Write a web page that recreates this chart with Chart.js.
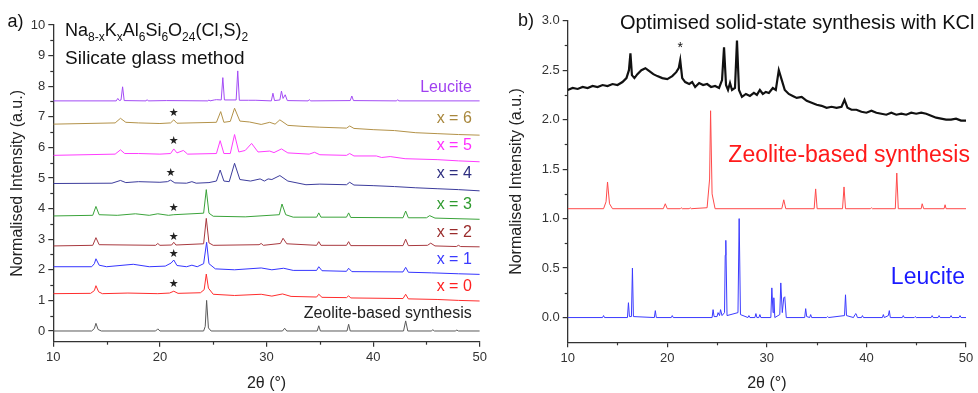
<!DOCTYPE html>
<html>
<head>
<meta charset="utf-8">
<script src="https://cdn.jsdelivr.net/npm/chart.js@4.4.1/dist/chart.umd.min.js"></script>
<style>
  html, body { margin: 0; padding: 0; background: #fff; }
  #wrap { position: relative; width: 978px; height: 393px; overflow: hidden; }
  canvas { position: absolute; top: 0; }
  #left { left: 0; }
  #right { left: 490px; }
</style>
</head>
<body>
<div id="wrap">
  <canvas id="left" width="490" height="393"></canvas>
  <canvas id="right" width="488" height="393"></canvas>
</div>
<script>
// ---- tick labels ----
const xTicks = [10, 20, 30, 40, 50];
const yTicksA = [0, 1, 2, 3, 4, 5, 6, 7, 8, 9, 10];
const yTicksB = [0, 0.5, 1, 1.5, 2, 2.5, 3];

// ---- panel a) silicate glass method, offset patterns (2theta / intensity) ----
const zeoA_t = [10, 13.6, 13.85, 14.0, 14.2, 14.5, 19.6, 19.8, 20.0, 24.1, 24.25, 24.38, 24.55, 24.8, 31.5, 31.7, 31.9, 34.75, 34.9, 35.05, 37.55, 37.7, 37.85, 42.85, 43.05, 43.25, 45.45, 45.6, 45.75, 47.7, 47.85, 48.0, 50];
const zeoA_i = [0, 0, 0.08, 0.25, 0.05, 0, 0, 0.07, 0, 0, 0.15, 1.0, 0.1, 0, 0, 0.09, 0, 0, 0.17, 0, 0, 0.22, 0, 0, 0.33, 0, 0, 0.04, 0, 0, 0.03, 0, 0];

const x0_t = [10, 13.5, 13.85, 14.0, 14.25, 14.6, 17, 19.8, 20.9, 21.3, 21.7, 23.8, 24.15, 24.35, 24.55, 25, 27, 29.5, 30.5, 31.5, 32.3, 34.7, 34.9, 35.2, 37.5, 37.7, 37.9, 42.8, 43.05, 43.3, 46, 48, 50];
const x0_i = [1.22, 1.23, 1.32, 1.48, 1.28, 1.22, 1.24, 1.22, 1.24, 1.3, 1.23, 1.25, 1.35, 1.86, 1.4, 1.2, 1.16, 1.2, 1.14, 1.21, 1.13, 1.11, 1.2, 1.1, 1.09, 1.15, 1.08, 1.06, 1.2, 1.05, 1.03, 1.0, 0.98];

const x1_t = [10, 13.6, 13.85, 14.0, 14.3, 15, 17.5, 19, 20.5, 21.05, 21.3, 21.6, 22.5, 23.0, 23.5, 24.1, 24.38, 24.6, 25.2, 27, 29.5, 30.5, 31.6, 32.5, 34.7, 34.9, 35.2, 37.5, 37.7, 38, 42.8, 43.05, 43.3, 45.5, 48, 50];
const x1_i = [2.1, 2.1, 2.2, 2.36, 2.15, 2.1, 2.18, 2.1, 2.12, 2.22, 2.32, 2.14, 2.1, 2.15, 2.1, 2.2, 2.9, 2.2, 2.03, 2.0, 2.06, 2.0, 2.05, 1.98, 1.98, 2.1, 1.97, 1.95, 2.05, 1.94, 1.93, 2.08, 1.92, 1.9, 1.87, 1.85];

const x2_t = [10, 13.7, 14.0, 14.3, 19.6, 19.8, 20.0, 21.1, 21.3, 21.5, 24.1, 24.35, 24.6, 25, 29.3, 29.5, 29.7, 31.3, 31.55, 31.9, 34.7, 34.9, 35.1, 37.5, 37.7, 37.9, 42.8, 43.05, 43.3, 45.1, 45.4, 45.8, 47.8, 48, 48.2, 50];
const x2_i = [2.78, 2.8, 3.05, 2.82, 2.8, 2.86, 2.8, 2.81, 2.9, 2.81, 2.85, 3.68, 2.88, 2.8, 2.82, 2.86, 2.8, 2.86, 3.03, 2.85, 2.8, 2.92, 2.8, 2.8, 2.92, 2.79, 2.79, 3.0, 2.79, 2.8, 2.87, 2.78, 2.76, 2.8, 2.76, 2.75];

const x3_t = [10, 13.7, 14.0, 14.3, 16, 17.7, 19, 19.8, 20.8, 21.3, 24.1, 24.35, 24.6, 25, 28, 31.2, 31.45, 31.8, 32.5, 34.7, 34.9, 35.1, 37.5, 37.7, 37.9, 42.8, 43.05, 43.3, 45.0, 45.3, 45.8, 50];
const x3_i = [3.76, 3.78, 4.07, 3.8, 3.78, 3.83, 3.78, 3.83, 3.78, 3.8, 3.85, 4.62, 3.85, 3.75, 3.73, 3.8, 4.15, 3.8, 3.72, 3.72, 3.86, 3.72, 3.72, 3.86, 3.71, 3.7, 3.92, 3.7, 3.7, 3.77, 3.69, 3.65];

const x4_t = [10, 15.5, 16.3, 16.8, 18, 20, 20.7, 21.0, 21.4, 22.5, 23.0, 23.4, 24.6, 25.3, 25.65, 26.0, 26.5, 27.0, 27.5, 28.5, 29.4, 29.8, 30.15, 30.5, 31.25, 32, 33.7, 35, 37.5, 37.8, 38.2, 40, 42, 44, 46, 48, 50];
const x4_i = [4.82, 4.83, 4.92, 4.85, 4.88, 4.86, 4.88, 4.93, 4.84, 4.83, 4.88, 4.83, 4.85, 4.9, 5.26, 4.9, 4.88, 5.48, 4.95, 4.9, 4.97, 4.9, 4.97, 4.95, 5.08, 4.9, 4.78, 4.8, 4.78, 4.86, 4.77, 4.75, 4.72, 4.68, 4.65, 4.62, 4.58];

const x5_t = [10, 15.8, 16.3, 16.7, 18, 20, 21.0, 21.3, 21.6, 22.2, 22.6, 25.3, 25.65, 26.0, 26.6, 27.0, 27.4, 28.0, 28.6, 29.2, 30.3, 30.7, 31.4, 32.0, 34.0, 34.5, 35, 37.5, 37.8, 38.2, 40.3, 40.8, 41.6, 43, 46, 48, 50];
const x5_i = [5.74, 5.78, 5.92, 5.8, 5.8, 5.78, 5.8, 5.95, 5.82, 5.9, 5.78, 5.8, 6.22, 5.8, 5.8, 6.42, 5.85, 5.9, 6.13, 5.85, 5.88, 5.83, 5.95, 5.82, 5.78, 5.84, 5.76, 5.74, 5.8, 5.72, 5.72, 5.67, 5.7, 5.63, 5.6, 5.56, 5.53];

const x6_t = [10, 15.8, 16.3, 16.8, 18, 20, 21.0, 21.3, 21.6, 25.3, 25.7, 26.0, 26.6, 27.0, 27.5, 28.4, 29.5, 30.3, 30.8, 31.25, 32, 33.7, 35, 37.5, 37.8, 38.2, 40, 42, 44, 46, 48, 50];
const x6_i = [6.76, 6.8, 6.95, 6.82, 6.8, 6.78, 6.8, 6.9, 6.79, 6.82, 7.17, 6.82, 6.85, 7.28, 6.86, 6.83, 6.75, 6.82, 6.76, 6.9, 6.72, 6.68, 6.66, 6.63, 6.7, 6.62, 6.58, 6.55, 6.48, 6.45, 6.42, 6.4];

const leuA_t = [10, 15.9, 16.05, 16.2, 16.35, 16.5, 16.65, 18.7, 18.8, 18.9, 20.6, 24.5, 24.6, 24.7, 25.1, 25.3, 25.75, 25.9, 26.05, 27.15, 27.3, 27.45, 28.3, 29, 30.45, 30.6, 30.75, 31.25, 31.4, 31.55, 31.75, 31.95, 33.9, 34.0, 34.15, 37.85, 38.0, 38.15, 42.2, 42.3, 42.4, 50];
const leuA_i = [7.52, 7.52, 7.6, 7.53, 7.55, 7.98, 7.53, 7.52, 7.56, 7.52, 7.53, 7.52, 7.55, 7.52, 7.55, 7.56, 7.55, 8.28, 7.55, 7.55, 8.5, 7.54, 7.54, 7.54, 7.52, 7.77, 7.53, 7.55, 7.84, 7.6, 7.72, 7.53, 7.52, 7.56, 7.52, 7.53, 7.68, 7.53, 7.52, 7.56, 7.52, 7.52];

// ---- panel b) ----
const kcl_t = [10, 10.5, 11, 11.5, 12, 12.5, 13, 13.5, 14, 14.5, 15, 15.5, 15.9, 16.15, 16.3, 16.45, 16.7, 17.0, 17.4, 17.8, 18.2, 18.6, 19.0, 19.5, 20.0, 20.5, 20.9, 21.15, 21.3, 21.5, 21.8, 22.2, 22.5, 22.8, 23.2, 23.6, 24.0, 24.4, 24.8, 25.2, 25.5, 25.7, 25.9, 26.1, 26.3, 26.5, 26.8, 27.0, 27.2, 27.5, 27.9, 28.3, 28.7, 29.0, 29.3, 29.6, 29.9, 30.2, 30.6, 30.9, 31.2, 31.5, 31.8, 32.2, 32.6, 33.0, 33.5, 34.0, 34.5, 35.0, 35.5, 36.0, 36.5, 37.0, 37.5, 37.8, 38.1, 38.5, 39.0, 39.5, 40.0, 40.5, 41.0, 41.5, 42.0, 42.5, 43.0, 43.5, 44.0, 44.5, 45.0, 45.5, 46.0, 46.5, 47.0, 47.5, 48.0, 48.5, 49.0, 49.5, 50];
const kcl_i = [2.30, 2.32, 2.31, 2.33, 2.32, 2.34, 2.33, 2.35, 2.34, 2.36, 2.35, 2.38, 2.42, 2.5, 2.67, 2.45, 2.42, 2.46, 2.5, 2.52, 2.49, 2.46, 2.44, 2.42, 2.41, 2.44, 2.48, 2.52, 2.6, 2.42, 2.38, 2.36, 2.38, 2.33, 2.37, 2.35, 2.36, 2.33, 2.34, 2.32, 2.4, 2.73, 2.35, 2.3, 2.37, 2.3, 2.32, 2.8, 2.3, 2.23, 2.26, 2.24, 2.27, 2.25, 2.3, 2.26, 2.28, 2.27, 2.32, 2.3, 2.5, 2.4, 2.3, 2.26, 2.24, 2.22, 2.23, 2.19, 2.17, 2.15, 2.14, 2.12, 2.13, 2.12, 2.13, 2.2, 2.12, 2.1, 2.1, 2.08, 2.07, 2.09, 2.07, 2.06, 2.05, 2.07, 2.05, 2.06, 2.05, 2.07, 2.06, 2.07, 2.06, 2.04, 2.02, 2.01, 2.0, 2.0, 2.01, 1.99, 1.99];

const zeoB_t = [10, 13.6, 13.85, 14.0, 14.2, 14.5, 19.6, 19.8, 20.0, 21.3, 21.4, 21.5, 22.2, 22.3, 22.4, 24.0, 24.25, 24.35, 24.5, 24.8, 31.5, 31.7, 31.9, 34.75, 34.9, 35.05, 37.6, 37.75, 37.9, 40.4, 40.5, 40.6, 42.9, 43.05, 43.2, 45.5, 45.6, 45.75, 47.8, 47.9, 48.0, 50];
const zeoB_i = [1.1, 1.1, 1.17, 1.37, 1.15, 1.1, 1.1, 1.15, 1.1, 1.1, 1.11, 1.1, 1.1, 1.11, 1.1, 1.11, 1.4, 2.09, 1.25, 1.1, 1.1, 1.19, 1.1, 1.1, 1.3, 1.1, 1.1, 1.32, 1.1, 1.1, 1.11, 1.1, 1.1, 1.46, 1.1, 1.1, 1.15, 1.1, 1.1, 1.14, 1.1, 1.1];

const leuB_t = [10, 13.5, 13.6, 13.7, 16.0, 16.1, 16.2, 16.4, 16.5, 16.6, 18.7, 18.8, 18.9, 20.4, 20.5, 20.6, 24.5, 24.6, 24.7, 25.0, 25.1, 25.25, 25.35, 25.5, 25.75, 25.82, 25.88, 26.0, 27.1, 27.22, 27.35, 28.1, 28.2, 28.3, 28.8, 28.9, 29.0, 29.2, 29.3, 29.4, 30.4, 30.5, 30.62, 30.7, 30.8, 31.3, 31.4, 31.55, 31.7, 31.8, 31.95, 33.8, 33.9, 34.0, 34.3, 34.4, 34.5, 36.0, 36.1, 36.2, 37.8, 37.9, 38.0, 38.7, 38.85, 38.95, 39.1, 39.5, 39.6, 39.7, 41.6, 41.7, 41.8, 42.2, 42.3, 42.4, 43.6, 43.7, 43.8, 44.8, 44.9, 45.0, 46.5, 46.6, 46.7, 47.2, 47.3, 47.4, 48.4, 48.5, 48.6, 49.3, 49.4, 49.5, 50];
const leuB_i = [0, 0, 0.02, 0, 0, 0.15, 0.01, 0.01, 0.5, 0.01, 0, 0.07, 0, 0, 0.02, 0, 0, 0.08, 0.01, 0.01, 0.05, 0.02, 0.08, 0.02, 0.05, 0.63, 0.78, 0.02, 0.05, 1.0, 0.03, 0, 0.02, 0, 0, 0.04, 0, 0, 0.03, 0, 0, 0.3, 0.05, 0.2, 0, 0.03, 0.35, 0.05, 0.2, 0.21, 0, 0, 0.09, 0.01, 0, 0.03, 0, 0, 0.01, 0, 0.02, 0.23, 0.02, 0, 0.03, 0.04, 0, 0, 0.02, 0, 0, 0.03, 0, 0.02, 0.07, 0, 0, 0.02, 0, 0, 0.01, 0, 0, 0.02, 0, 0, 0.02, 0, 0, 0.02, 0, 0, 0.02, 0, 0];

const axisColor = '#333';
const font = 'Arial, "Liberation Sans", sans-serif';

function toPoints(t, i) {
    return t.map((v, k) => ({ x: v, y: i[k] }));
}

function trace(label, t, i, color, width) {
    return { label, data: toPoints(t, i), borderColor: color, borderWidth: width || 1, pointRadius: 0, tension: 0, fill: false };
}

// minor ticks + text labels, placed through the scales
const extras = {
    id: 'extras',
    afterDraw(chart, args, opts) {
        const ctx = chart.ctx, xs = chart.scales.x, ys = chart.scales.y;
        ctx.save();
        ctx.strokeStyle = axisColor;
        ctx.lineWidth = 1.2;
        (opts.minorX || []).forEach(v => {
            const px = Math.round(xs.getPixelForValue(v)) + 0.5;
            ctx.beginPath(); ctx.moveTo(px, ys.bottom); ctx.lineTo(px, ys.bottom + 3); ctx.stroke();
        });
        (opts.minorY || []).forEach(v => {
            const py = Math.round(ys.getPixelForValue(v)) + 0.5;
            ctx.beginPath(); ctx.moveTo(xs.left, py); ctx.lineTo(xs.left - 3, py); ctx.stroke();
        });
        (opts.notes || []).forEach(n => {
            let px = xs.getPixelForValue(n.x);
            const py = ys.getPixelForValue(n.y);
            ctx.fillStyle = n.color || '#222';
            ctx.textBaseline = n.base || 'alphabetic';
            if (n.parts) {
                // formula with subscripts
                ctx.textAlign = 'left';
                n.parts.forEach(([txt, sub]) => {
                    ctx.font = (sub ? '12px ' : '18px ') + font;
                    ctx.fillText(txt, px, py + (sub ? 5 : 0));
                    px += ctx.measureText(txt).width;
                });
            } else {
                ctx.font = n.size + 'px ' + (n.family || font);
                ctx.textAlign = n.align || 'left';
                ctx.fillText(n.text, px, py);
            }
        });
        ctx.restore();
    }
};

function scales(xW, yW, yMin, yMax, yTicks, fmt) {
    const axisTitle = (text, pad) => ({ display: true, text, color: '#222', font: { family: font, size: 16 }, padding: pad });
    return {
        x: {
            type: 'linear', min: 10, max: 50,
            afterBuildTicks: s => { s.ticks = xTicks.map(v => ({ value: v })); },
            afterFit: s => { s.height = xW; },
            ticks: { color: axisColor, font: { family: font, size: 13 }, padding: 3, maxRotation: 0 },
            grid: { drawOnChartArea: false, tickLength: 5, color: axisColor, lineWidth: 1.2 },
            border: { color: axisColor, width: 1.3 },
            title: axisTitle('2θ (°)', { top: 0, bottom: 0 })
        },
        y: {
            type: 'linear', min: yMin, max: yMax,
            afterBuildTicks: s => { s.ticks = yTicks.map(v => ({ value: v })); },
            afterFit: s => { s.width = yW; },
            ticks: { color: axisColor, font: { family: font, size: 13 }, padding: 3, callback: fmt },
            grid: { drawOnChartArea: false, tickLength: 5, color: axisColor, lineWidth: 1.2 },
            border: { color: axisColor, width: 1.3 },
            title: axisTitle('Normalised Intensity (a.u.)', { top: 4, bottom: 4 })
        }
    };
}

const star = (x, y) => ({ text: '★', x, y, size: 11, align: 'center', base: 'middle', color: '#222', family: '"DejaVu Sans", sans-serif' });

new Chart(document.getElementById('left'), {
    type: 'line',
    data: {
        datasets: [
            trace('Zeolite-based synthesis', zeoA_t, zeoA_i, '#5a5a5a'),
            trace('x = 0', x0_t, x0_i, '#ff2d2d'),
            trace('x = 1', x1_t, x1_i, '#3535ff'),
            trace('x = 2', x2_t, x2_i, '#a8393f'),
            trace('x = 3', x3_t, x3_i, '#3aa33a'),
            trace('x = 4', x4_t, x4_i, '#3c3c9c'),
            trace('x = 5', x5_t, x5_i, '#ff3cff'),
            trace('x = 6', x6_t, x6_i, '#b39249'),
            trace('Leucite', leuA_t, leuA_i, '#a34cf5')
        ]
    },
    options: {
        responsive: false,
        animation: false,
        layout: { padding: { left: 4, top: 25, right: 10, bottom: 0 } },
        scales: scales(51.3, 49.3, -0.35, 10, yTicksA, v => v),
        plugins: {
            legend: { display: false },
            tooltip: { enabled: false },
            extras: {
                minorX: [15, 25, 35, 45],
                minorY: [0.5, 1.5, 2.5, 3.5, 4.5, 5.5, 6.5, 7.5, 8.5, 9.5],
                notes: [
                    { text: 'a)', x: 5.7, y: 9.92, size: 18, color: '#111' },
                    { parts: [['Na', 0], ['8-x', 1], ['K', 0], ['x', 1], ['Al', 0], ['6', 1], ['Si', 0], ['6', 1], ['O', 0], ['24', 1], ['(Cl,S)', 0], ['2', 1]], x: 11.1, y: 9.64, color: '#111' },
                    { text: 'Silicate glass method', x: 11.1, y: 8.73, size: 19, color: '#111' },
                    { text: 'Leucite', x: 49.25, y: 7.8, size: 16, align: 'right', color: '#a040f0' },
                    { text: 'x = 6', x: 49.25, y: 6.79, size: 16, align: 'right', color: '#a8873c' },
                    { text: 'x = 5', x: 49.25, y: 5.92, size: 16, align: 'right', color: '#ff30ff' },
                    { text: 'x = 4', x: 49.25, y: 4.99, size: 16, align: 'right', color: '#2e2e80' },
                    { text: 'x = 3', x: 49.25, y: 3.98, size: 16, align: 'right', color: '#2e9a2e' },
                    { text: 'x = 2', x: 49.25, y: 3.08, size: 16, align: 'right', color: '#9a2b2b' },
                    { text: 'x = 1', x: 49.25, y: 2.19, size: 16, align: 'right', color: '#3a3aff' },
                    { text: 'x = 0', x: 49.25, y: 1.32, size: 16, align: 'right', color: '#ff2020' },
                    { text: 'Zeolite-based synthesis', x: 49.25, y: 0.42, size: 16, align: 'right', color: '#222' },
                    star(21.3, 7.12), star(21.3, 6.22), star(21.0, 5.16), star(21.3, 4.02),
                    star(21.3, 3.08), star(21.3, 2.52), star(21.3, 1.54)
                ]
            }
        }
    },
    plugins: [extras]
});

new Chart(document.getElementById('right'), {
    type: 'line',
    data: {
        datasets: [
            trace('Leucite', leuB_t, leuB_i, '#3b3bff'),
            trace('Zeolite-based synthesis', zeoB_t, zeoB_i, '#ff4a4a'),
            trace('Optimised solid-state synthesis with KCl', kcl_t, kcl_i, '#111', 2.2)
        ]
    },
    options: {
        responsive: false,
        animation: false,
        layout: { padding: { left: 13.4, top: 20.7, right: 12, bottom: 0 } },
        scales: scales(50.7, 64.3, -0.25, 3, yTicksB, v => v.toFixed(1)),
        plugins: {
            legend: { display: false },
            tooltip: { enabled: false },
            extras: {
                minorX: [15, 25, 35, 45],
                minorY: [0.25, 0.75, 1.25, 1.75, 2.25, 2.75],
                notes: [
                    { text: 'b)', x: 5.0, y: 2.95, size: 18, color: '#111' },
                    { text: 'Optimised solid-state synthesis with KCl', x: 50.85, y: 2.92, size: 20, align: 'right', color: '#111' },
                    { text: 'Zeolite-based synthesis', x: 50.4, y: 1.57, size: 23, align: 'right', color: '#ff1a1a' },
                    { text: 'Leucite', x: 49.9, y: 0.34, size: 23, align: 'right', color: '#1a1aff' },
                    { text: '*', x: 21.3, y: 2.72, size: 14, align: 'center', base: 'middle', color: '#111' }
                ]
            }
        }
    },
    plugins: [extras]
});
</script>
</body>
</html>
